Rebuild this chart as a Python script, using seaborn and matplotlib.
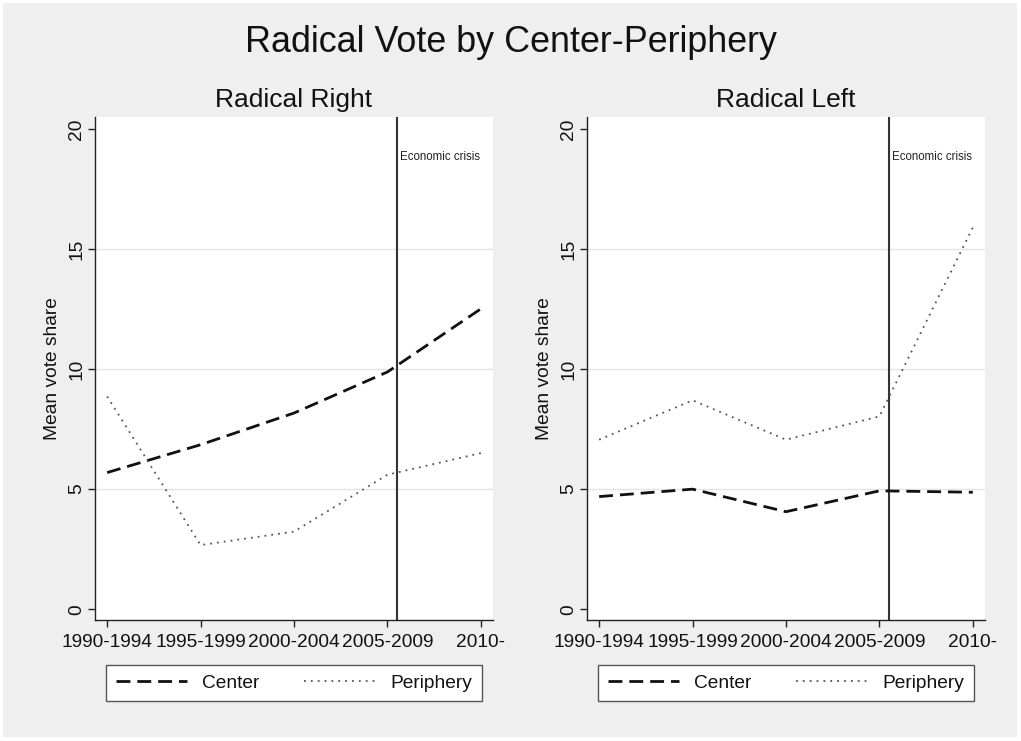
import matplotlib
matplotlib.use("Agg")
import matplotlib.pyplot as plt
import seaborn as sns
import pandas as pd
from matplotlib.patches import Rectangle

periods = ["1990-1994", "1995-1999", "2000-2004", "2005-2009", "2010-"]
right_center = [5.69, 6.85, 8.17, 9.88, 12.51]
right_periphery = [8.86, 2.67, 3.23, 5.60, 6.50]
left_center = [4.69, 5.00, 4.06, 4.93, 4.87]
left_periphery = [7.06, 8.70, 7.06, 8.03, 15.90]
panel_titles = ["Radical Right", "Radical Left"]
series_names = ["Center", "Periphery"]
y_ticks = [0, 5, 10, 15, 20]
crisis_pos = 3.1

sns.set_theme(style="white")
plt.rcParams['font.family'] = ['Liberation Sans', 'DejaVu Sans']

fig = plt.figure(figsize=(10.21, 7.41), dpi=100)
fig.patch.set_facecolor("white")
fig.patches.append(Rectangle((3/1021, 4/741), 1014/1021, 734/741, transform=fig.transFigure,
                             facecolor="#efefef", edgecolor="none", zorder=-10))

positions = [(95/1021, 0.1633, 398/1021, 503/741), (587/1021, 0.1633, 398/1021, 503/741)]
data_sets = [(right_center, right_periphery), (left_center, left_periphery)]

for pos, title, (c, p) in zip(positions, panel_titles, data_sets):
    ax = fig.add_axes(pos)
    ax.set_facecolor("white")
    df = pd.DataFrame({"x": list(range(len(periods))) * 2,
                       "y": c + p,
                       "series": [series_names[0]] * len(c) + [series_names[1]] * len(p)})
    sns.lineplot(data=df[df.series == "Center"], x="x", y="y", ax=ax, color="#111111",
                 lw=2.0, dashes=False, label="Center")
    sns.lineplot(data=df[df.series == "Periphery"], x="x", y="y", ax=ax, color="#555555",
                 lw=1.3, dashes=False, label="Periphery")
    ax.lines[0].set_dashes((5, 2.5))
    ax.lines[1].set_dashes((1, 2.8))
    ax.axvline(crisis_pos, color="#333333", lw=1.5, zorder=1)
    ax.text(crisis_pos + 0.03, 18.85, "Economic crisis", fontsize=8.3, color="#222222",
            ha="left", va="center")
    ax.set_xlim(-0.13, 4.13)
    ax.set_ylim(-0.45, 20.5)
    ax.set_xticks(range(len(periods)))
    ax.set_xticklabels(periods)
    ax.set_yticks(y_ticks)
    for g in [5, 10, 15]:
        ax.axhline(g, color="#e4e4e4", lw=1.0, zorder=0)
    ax.tick_params(axis="both", which="both", direction="out", length=5, width=1,
                   color="#222222", labelsize=13.8, labelcolor="#111111", pad=5,
                   bottom=True, left=True)
    ax.tick_params(axis="y", pad=2)
    for lab in ax.get_yticklabels():
        lab.set_rotation(90)
        lab.set_va("center")
    for s in ["top", "right"]:
        ax.spines[s].set_visible(False)
    for s in ["left", "bottom"]:
        ax.spines[s].set_color("#222222")
        ax.spines[s].set_linewidth(1.0)
    ax.set_xlabel("")
    ax.set_ylabel("Mean vote share", fontsize=13.8, color="#111111", labelpad=5)
    ax.set_title(title, fontsize=19, color="#111111", pad=7)
    leg = ax.legend(loc="center", bbox_to_anchor=(0.028, -0.161, 0.944, 0.072), mode="expand",
                    ncol=2, fontsize=13.8, frameon=True, fancybox=False, framealpha=1,
                    edgecolor="#555555", handlelength=3.7, handletextpad=0.8,
                    borderaxespad=0, borderpad=0.5)
    leg.get_frame().set_linewidth(1.0)
    for t in leg.get_texts():
        t.set_color("#111111")

fig.suptitle("Radical Vote by Center-Periphery", fontsize=25.8, y=0.943, va="center",
             color="#111111")

fig.savefig("out.png", dpi=100)
